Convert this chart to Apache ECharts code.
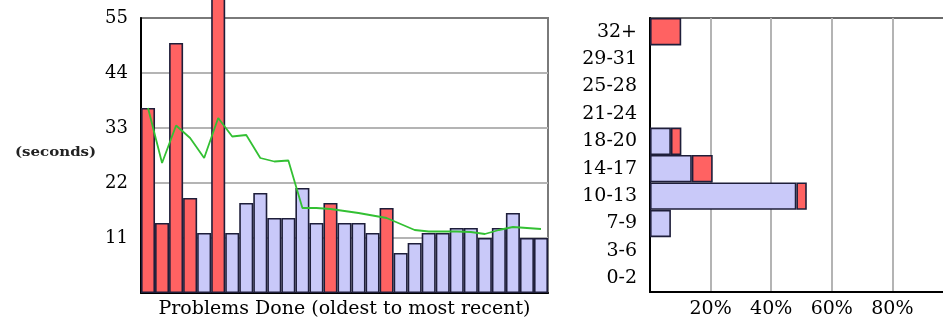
<!DOCTYPE html>
<html>
<head>
<meta charset="utf-8">
<script src="https://cdn.jsdelivr.net/npm/echarts@6/dist/echarts.min.js"></script>
<style>
html,body{margin:0;padding:0;background:#fff;}
#chart{width:943px;height:321px;}
</style>
</head>
<body>
<div id="chart"></div>
<script>
// ---- Data ----
var problems = ['1','2','3','4','5','6','7','8','9','10','11','12','13','14','15','16','17','18','19','20','21','22','23','24','25','26','27','28','29'];
var seconds = [37,14,50,19,12,65,12,18,20,15,15,21,14,18,14,14,12,17,8,10,12,12,13,13,11,13,16,11,11];
var wrong   = [1,1,1,1,0,1,0,0,0,0,0,0,0,1,0,0,0,1,0,0,0,0,0,0,0,0,0,0,0];
var movingAvg = [37,26,33.5,31,27,35,31.3,31.6,27,26.3,26.5,17,17,16.8,16.4,16,15.5,15,13.8,12.6,12.3,12.3,12.3,12.2,11.8,12.6,13.2,13,12.8];

var bins = ['0-2','3-6','7-9','10-13','14-17','18-20','21-24','25-28','29-31','32+'];
var pctCorrect = [0,0,6.9,48.3,13.8,6.9,0,0,0,0];
var pctWrong   = [0,0,0,3.45,6.9,3.45,0,0,0,10.3];

var secTicks = [11,22,33,44,55];
var pctTicks = [20,40,60,80];

// ---- Styles ----
var RED = '#ff6262', BLUE = '#c9c9f9', EDGE = '#1e1e3a';
var FONT = 'DejaVu Serif';

var chart = echarts.init(document.getElementById('chart'), null, {renderer:'canvas'});
chart.setOption({
  animation: false,
  grid: [
    {left:141, top:18, width:407, height:275, outerBoundsMode:'none', containLabel:false,
     show:true, borderColor:'#7a7a7a', borderWidth:2, backgroundColor:'#fff'},
    {left:650, top:18, width:303, height:274, outerBoundsMode:'none', containLabel:false,
     show:true, borderColor:'#6a6a6a', borderWidth:2, backgroundColor:'#fff'}
  ],
  xAxis: [
    {gridIndex:0, type:'category', data:problems, boundaryGap:true,
     axisLine:{show:true, lineStyle:{color:'#000', width:2}}, axisTick:{show:false}, axisLabel:{show:false},
     name:'Problems Done (oldest to most recent)', nameLocation:'middle', nameGap:7,
     nameTextStyle:{fontFamily:FONT, fontSize:19, color:'#000', verticalAlign:'top'}},
    {gridIndex:1, type:'value', min:0, max:100, interval:20,
     axisLine:{show:true, onZero:false, lineStyle:{color:'#000', width:2}}, axisTick:{show:false},
     axisLabel:{fontFamily:FONT, fontSize:19, color:'#000', margin:8,
       formatter:function(v){return pctTicks.indexOf(v)>=0 ? v+'%' : '';}},
     splitLine:{show:true, showMinLine:false, showMaxLine:false, lineStyle:{color:'#b4b4b4', width:2}}}
  ],
  yAxis: [
    {gridIndex:0, type:'value', min:0, max:55, interval:11,
     axisLine:{show:true, lineStyle:{color:'#000', width:2}}, axisTick:{show:false},
     axisLabel:{fontFamily:FONT, fontSize:18, color:'#000', margin:13,
       formatter:function(v){return secTicks.indexOf(v)>=0 ? String(v) : '';}},
     splitLine:{show:true, showMinLine:false, showMaxLine:false, lineStyle:{color:'#b4b4b4', width:2}}},
    {gridIndex:1, type:'category', data:bins, boundaryGap:true,
     axisLine:{show:true, lineStyle:{color:'#000', width:2}}, axisTick:{show:false},
     axisLabel:{fontFamily:FONT, fontSize:19, color:'#000', margin:13},
     splitLine:{show:false}}
  ],
  graphic: [
    {type:'text', left:15, top:147, style:{text:'(seconds)', font:'bold 12px "DejaVu Serif"', fill:'#222'}, scaleX:1.25}
  ],
  series: [
    {type:'bar', xAxisIndex:0, yAxisIndex:0, clip:false, barCategoryGap:'0%',
     data: seconds.map(function(v,i){return {value:v, itemStyle:{color: wrong[i] ? RED : BLUE}};}),
     itemStyle:{borderColor:EDGE, borderWidth:1.6}, z:2},
    {type:'line', xAxisIndex:0, yAxisIndex:0, data:movingAvg, showSymbol:false, symbol:'none',
     lineStyle:{color:'#33c033', width:1.8}, z:5},
    {type:'bar', xAxisIndex:1, yAxisIndex:1, stack:'p', barCategoryGap:'0%',
     data: pctCorrect.map(function(v){return v || '-';}),
     itemStyle:{color:BLUE, borderColor:EDGE, borderWidth:1.6}},
    {type:'bar', xAxisIndex:1, yAxisIndex:1, stack:'p', barCategoryGap:'0%',
     data: pctWrong.map(function(v){return v || '-';}),
     itemStyle:{color:RED, borderColor:EDGE, borderWidth:1.6}}
  ]
});
</script>
</body>
</html>
